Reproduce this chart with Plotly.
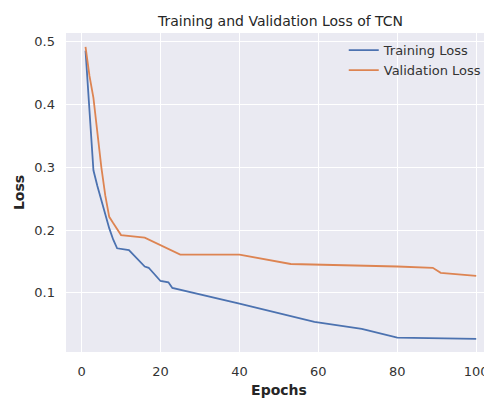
import plotly.graph_objects as go

train_epochs = [1, 2, 3, 4, 5, 6, 7, 8, 9, 12, 16, 17, 20, 22, 23, 40, 59, 71, 80, 100]
train_loss = [0.485, 0.39, 0.295, 0.27, 0.247, 0.224, 0.203, 0.185, 0.171, 0.168,
              0.142, 0.140, 0.119, 0.117, 0.108, 0.083, 0.054, 0.043, 0.029, 0.027]

val_epochs = [1, 2, 3, 4, 5, 6, 7, 8, 9, 10, 16, 25, 40, 53, 80, 89, 91, 100]
val_loss = [0.491, 0.445, 0.41, 0.35, 0.30, 0.255, 0.221, 0.211, 0.202, 0.192,
            0.188, 0.161, 0.161, 0.146, 0.142, 0.140, 0.132, 0.127]

x_ticks = [0, 20, 40, 60, 80, 100]
y_ticks = [0.1, 0.2, 0.3, 0.4, 0.5]

FONT = "DejaVu Sans"
TXT = "#262626"

# The page body has an 8px margin, so the figure is 8px smaller than the window.
W, H, OFF = 484, 391, 8

fig = go.Figure()
fig.add_trace(go.Scatter(x=train_epochs, y=train_loss, mode="lines", name="Training Loss",
                         line=dict(color="#4C72B0", width=1.8)))
fig.add_trace(go.Scatter(x=val_epochs, y=val_loss, mode="lines", name="Validation Loss",
                         line=dict(color="#DD8452", width=1.8)))

fig.update_layout(
    width=W, height=H,
    margin=dict(l=66 - OFF, r=0, t=33 - OFF, b=47, autoexpand=False),
    paper_bgcolor="white",
    plot_bgcolor="#EAEAF2",
    font=dict(family=FONT, color=TXT, size=13),
    title=dict(text="Training and Validation Loss of TCN", x=(280.5 - OFF) / W, xref="container",
               xanchor="center", y=1 - (20.7 - OFF) / H, yref="container", yanchor="middle",
               font=dict(size=14, color=TXT, family=FONT)),
    legend=dict(x=0.652, y=0.993, xanchor="left", yanchor="top", bgcolor="rgba(0,0,0,0)",
                font=dict(size=13, color="#333333"), itemwidth=30, tracegroupgap=0),
    showlegend=True,
)
fig.update_xaxes(range=[-3.95, 104.0], tickvals=x_ticks, ticktext=[str(v) for v in x_ticks],
                 showgrid=True, gridcolor="white", gridwidth=1.2, zeroline=False,
                 showline=False, ticks="", ticklabelstandoff=10, automargin=False,
                 tickfont=dict(size=13, color="#333333"),
                 title=dict(text="<b>Epochs</b>", font=dict(size=14, color=TXT), standoff=7))
fig.update_yaxes(range=[0.0061, 0.5132], tickvals=y_ticks, ticktext=[f"{v:.1f}" for v in y_ticks],
                 showgrid=True, gridcolor="white", gridwidth=1.2, zeroline=False,
                 showline=False, ticks="", ticklabelstandoff=10, automargin=False,
                 tickfont=dict(size=13, color="#333333"),
                 title=dict(text="<b>Loss</b>", font=dict(size=14, color=TXT), standoff=6))

fig.write_html("out.html")
